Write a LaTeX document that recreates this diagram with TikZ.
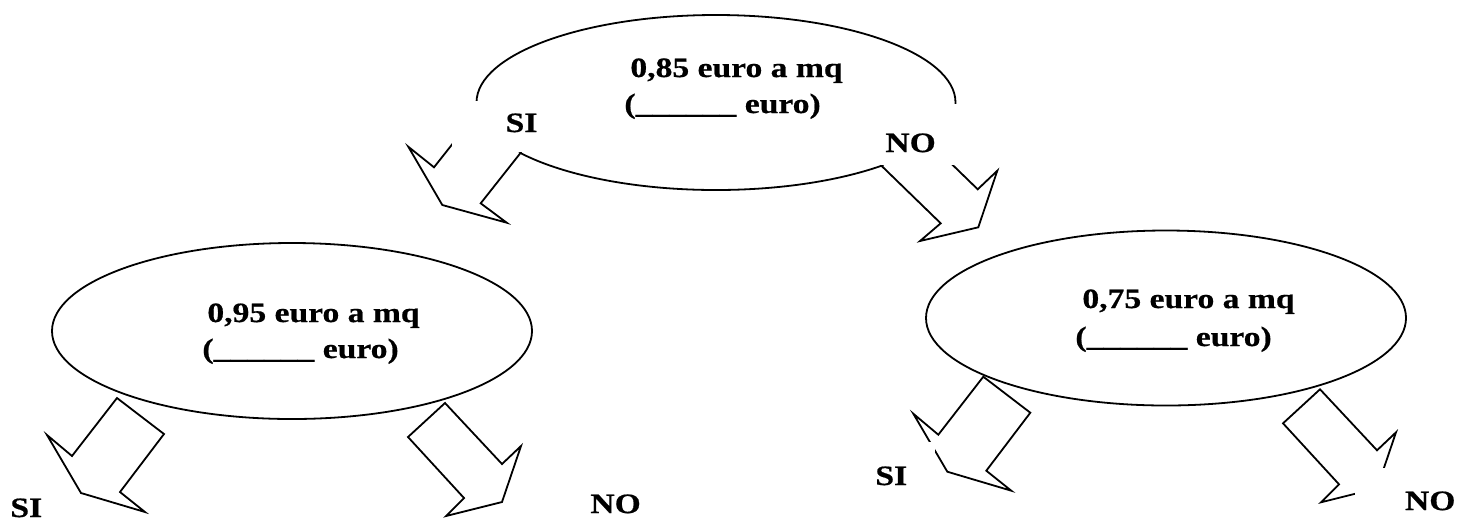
\documentclass[tikz,border=0pt]{standalone}
\usepackage{fontspec}
\setmainfont{Liberation Serif}[FakeStretch=1.2, BoldFeatures={FakeBold=0.6}]
\usetikzlibrary{shapes.geometric}

\begin{document}
\begin{tikzpicture}[x=0.5pt, y=-0.5pt, line join=miter,
		font=\fontsize{14}{18}\selectfont\bfseries]
	\useasboundingbox (0,0) rectangle (1459,521);
	\tikzset{
		oval/.style={ellipse, draw, line width=0.9pt, inner sep=0pt,
			minimum width=240pt, minimum height=87.5pt},
		blk/.style={draw, fill=white, line width=0.9pt},
		price/.style={anchor=base west, inner sep=0pt},
		lbl/.style={fill=white, inner sep=0pt, anchor=base west}}
	
	% ---- centri dei tre ovali ----
	\coordinate (T) at (716,102.5);
	\coordinate (L) at (292,331);
	\coordinate (R) at (1166,318);
	
	\node[oval, minimum width=239.5pt] (q85) at (T) {};
	\node[oval, minimum height=88pt]   (q95) at (L) {};
	\node[oval]                        (q75) at (R) {};
	
	% ---- frecce (bianche, sopra gli ovali) ----
	\draw[blk] (474,116.7) -- (520.7,152.7) -- (480.7,203.3) -- (506.7,222.7)
	-- (442.3,205) -- (408.3,146.7) -- (434,167.3) -- cycle;
	\draw[blk] (881.7,166) -- (940.7,223.3) -- (920,241) -- (978.3,227.3)
	-- (997.3,170.7) -- (977.7,189.3) -- (918.7,132) -- cycle;
	
	\draw[blk] (117,398) -- (164,434) -- (120,492) -- (145,512)
	-- (81,493) -- (47,435) -- (72,456) -- cycle;
	\draw[blk] (445,403) -- (408,437) -- (464,498) -- (446,516)
	-- (502,502) -- (521,446) -- (502,464) -- cycle;
	
	\draw[blk] (983.3,376.7) -- (1030.3,412.7) -- (986.3,470.7) -- (1011.3,490.7)
	-- (947.3,471.7) -- (913.3,413.7) -- (938.3,434.7) -- cycle;
	\draw[blk] (1320,389.3) -- (1283,423.3) -- (1339,484.3) -- (1321,502.3)
	-- (1377,488.3) -- (1396,432.3) -- (1377,450.3) -- cycle;
	
	% ---- etichette SI / NO (caselle bianche) ----
	\node[lbl, inner xsep=1.5pt, text width=41pt, align=right,
	text height=15.5pt, text depth=10pt] (si0) at (452,132) {SI};
	\node[lbl, inner xsep=2pt, text width=35.5pt, align=left,
	text height=24pt, text depth=6.5pt] (no0) at (881,152) {NO};
	
	\node[lbl] (si1) at (10,517) {SI};
	\node[lbl] (no1) at (590,513) {NO};
	
	\node[lbl, inner xsep=1.5pt, text width=28.5pt, align=left,
	text height=21.5pt, text depth=5pt] (si2) at (872,485) {SI};
	\node[lbl, inner xsep=2pt, text width=48pt, align=right,
	text height=21pt, text depth=5.5pt] (no2) at (1355,510) {NO};
	
	% ---- testi negli ovali ----
	\node[price] (t85a) at (630,77)  {0,85 euro a mq};
	\node[price] (t85b) at (624,113) {(\_\_\_\_\_\_ euro)};
	\node[price] (t95a) at (207,322) {0,95 euro a mq};
	\node[price] (t95b) at (202,358) {(\_\_\_\_\_\_ euro)};
	\node[price] (t75a) at (1082,308) {0,75 euro a mq};
	\node[price] (t75b) at (1075,346) {(\_\_\_\_\_\_ euro)};
\end{tikzpicture}
\end{document}
